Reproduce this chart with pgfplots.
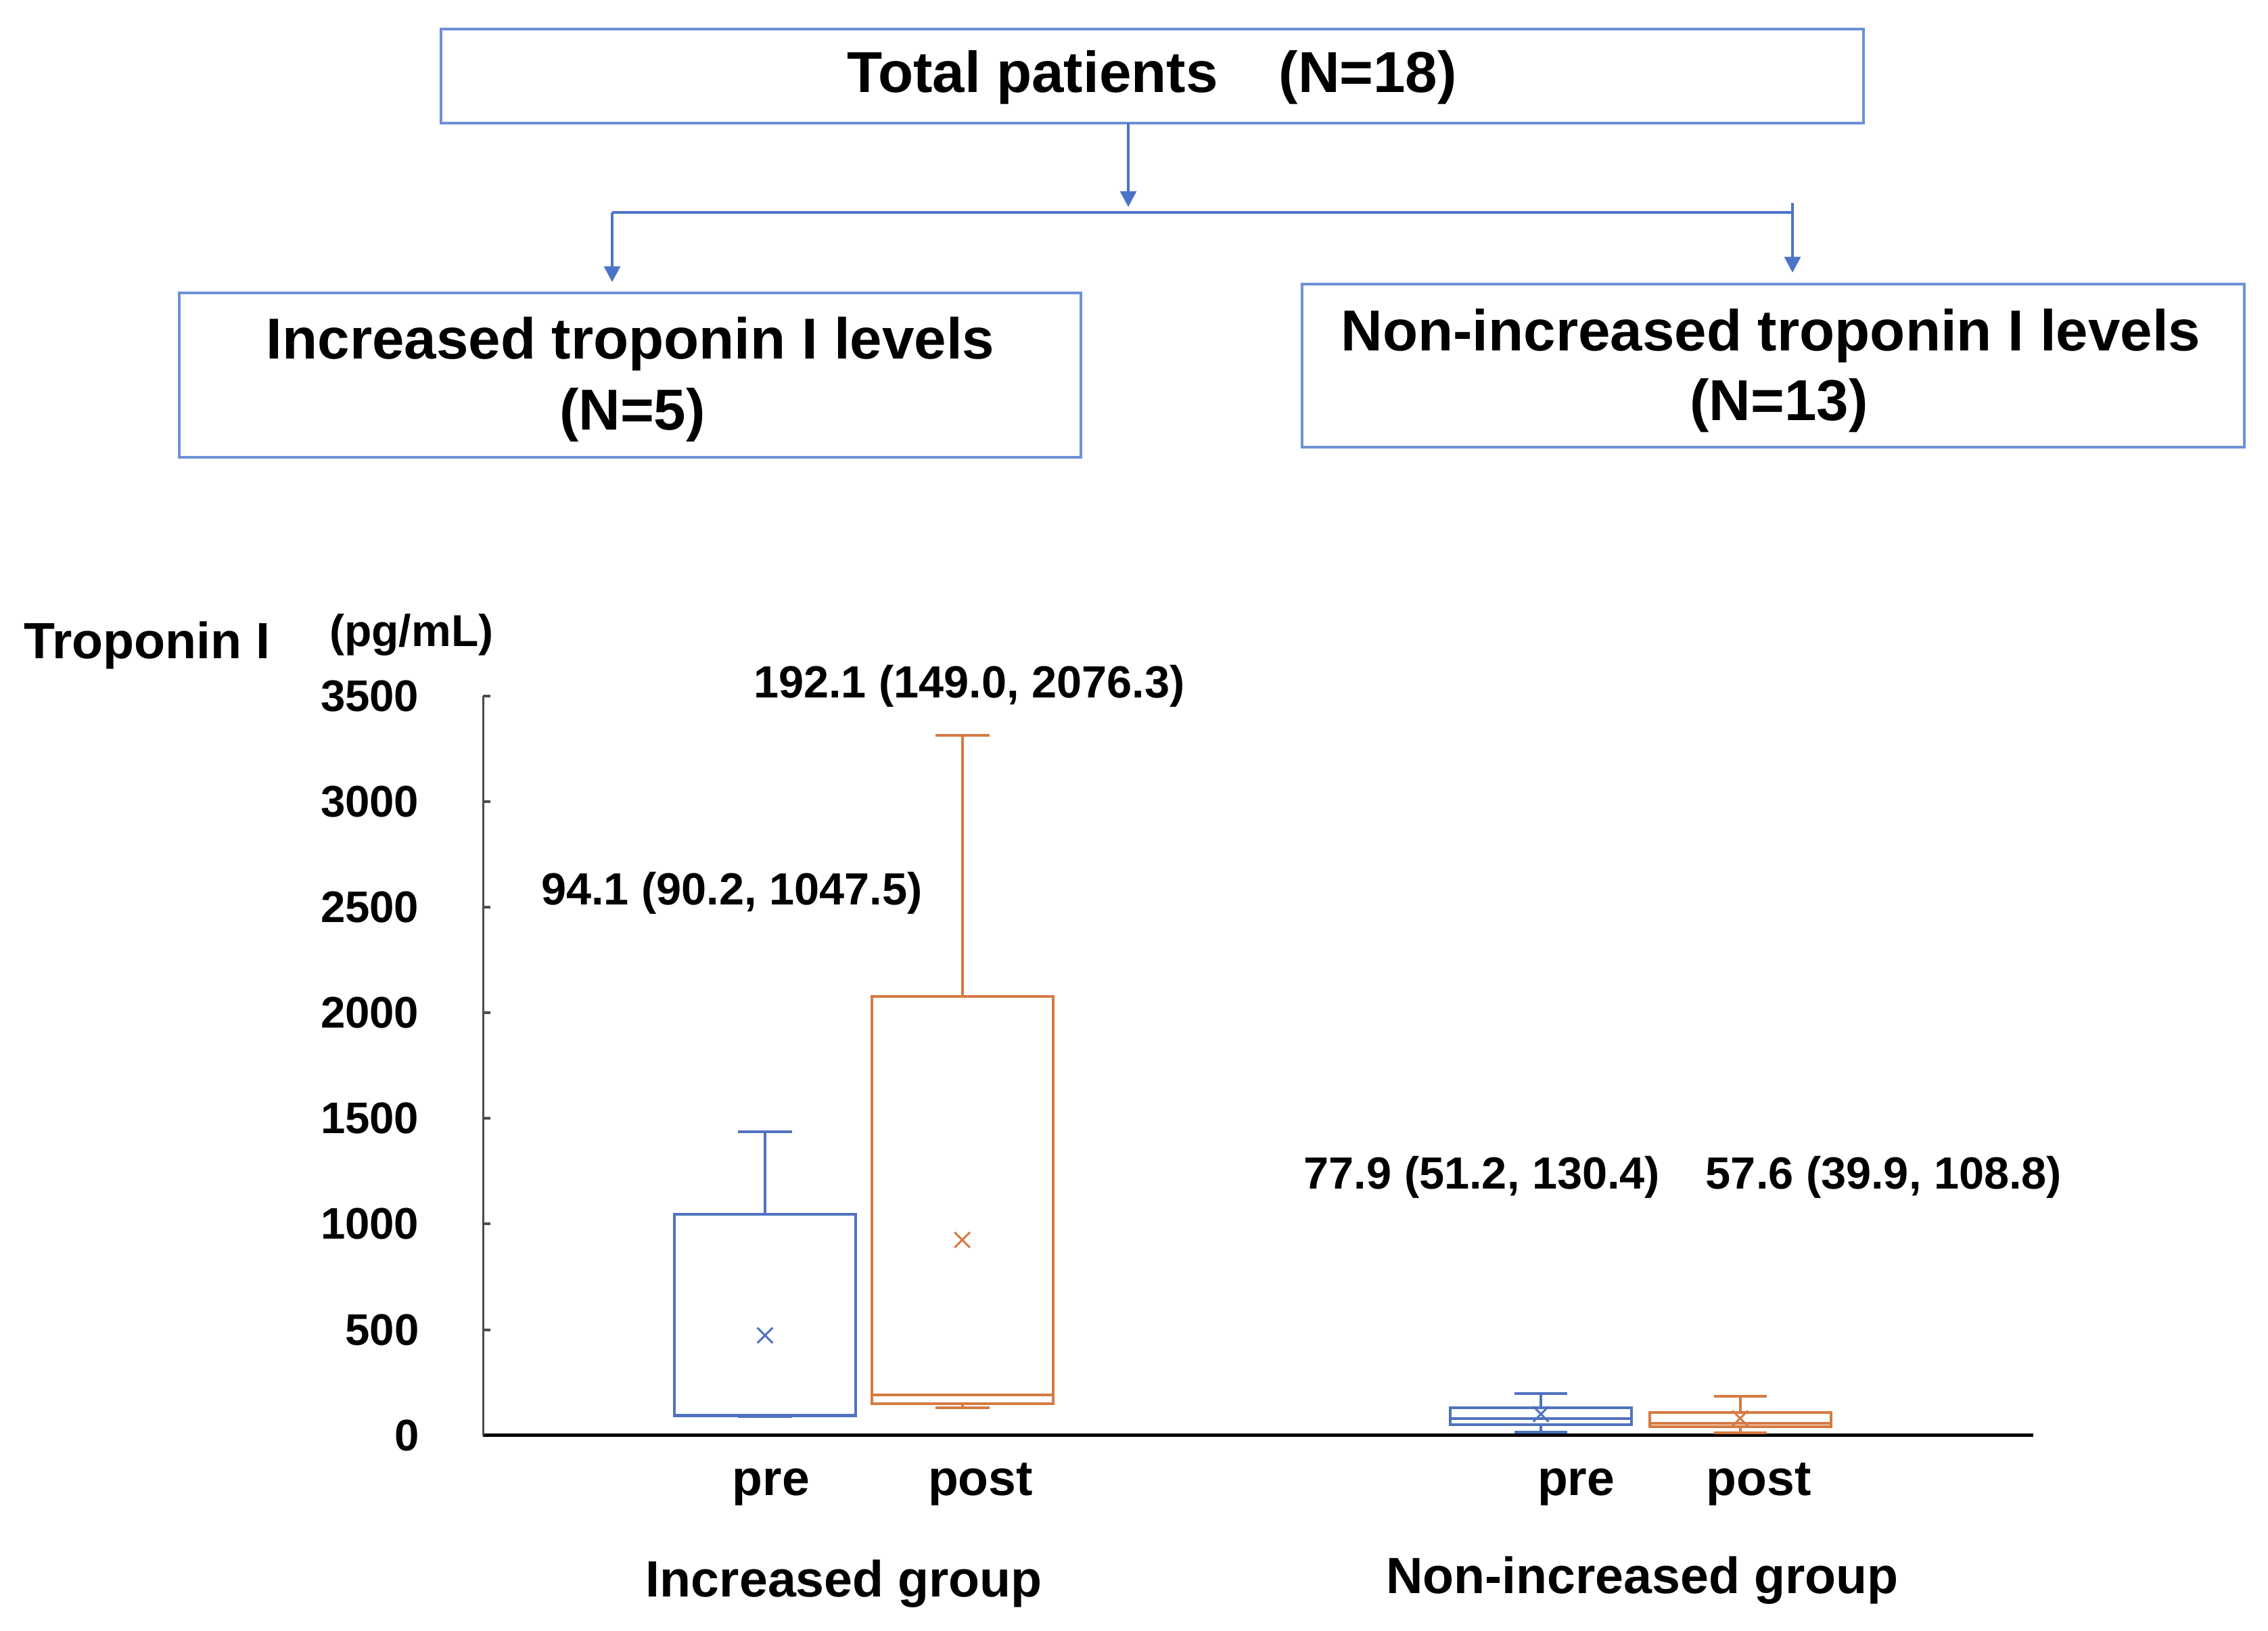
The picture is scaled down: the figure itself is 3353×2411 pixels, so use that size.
\documentclass[border=0pt]{standalone}
\usepackage{fontspec}
\setmainfont{Liberation Sans}
\usepackage{pgfplots}
\pgfplotsset{compat=1.18}
\usepgfplotslibrary{statistics}
\usetikzlibrary{arrows.meta}
\definecolor{bluec}{RGB}{80,114,192}
\definecolor{orangec}{RGB}{214,122,66}
\definecolor{boxblue}{RGB}{110,145,214}
\definecolor{arrblue}{RGB}{75,115,200}
\newcommand\F[1]{\fontsize{#1}{#1}\selectfont\bfseries}

\begin{document}
\begin{tikzpicture}
\begin{scope}[x=0.15pt,y=-0.15pt]
\useasboundingbox (0,0) rectangle (3353,2411);
% flowchart boxes
\draw[boxblue, line width=0.65pt] (652,43) rectangle (2755,182);
\node[anchor=base, font=\F{12.8}, inner sep=0pt] at (1703,137) {Total patients\hspace{13.5pt}(N=18)};
\draw[boxblue, line width=0.65pt] (265,433) rectangle (1598,676);
\node[anchor=base, font=\F{12.8}, inner sep=0pt] at (932,531) {Increased troponin I levels};
\node[anchor=base, font=\F{12.8}, inner sep=0pt] at (935,636) {(N=5)};
\draw[boxblue, line width=0.65pt] (1925,420) rectangle (3318,661);
\node[anchor=base, font=\F{12.8}, inner sep=0pt] at (2618,519) {Non-increased troponin I levels};
\node[anchor=base, font=\F{12.8}, inner sep=0pt] at (2630,622) {(N=13)};
% connectors
\draw[arrblue, line width=0.5pt, -{Triangle[length=3.5pt,width=3.6pt]}] (1668,182) -- (1668,306);
\draw[arrblue, line width=0.65pt] (905,314) -- (2650,314);
\draw[arrblue, line width=0.5pt] (2650,300) -- (2650,314);
\draw[arrblue, line width=0.5pt, -{Triangle[length=3.5pt,width=3.6pt]}] (905,314) -- (905,417);
\draw[arrblue, line width=0.5pt, -{Triangle[length=3.5pt,width=3.6pt]}] (2650,314) -- (2650,403);
% axis titles
\node[anchor=base west, font=\F{11.3}, inner sep=0pt] at (34,974) {Troponin I};
\node[anchor=base west, font=\F{9.9}, inner sep=0pt] at (486,956) {(pg/mL)};
% annotations
\node[anchor=base, font=\F{10}, inner sep=0pt] at (1433,1032) {192.1 (149.0, 2076.3)};
\node[anchor=base, font=\F{10}, inner sep=0pt] at (1082,1338) {94.1 (90.2, 1047.5)};
\node[anchor=base, font=\F{10}, inner sep=0pt] at (2191,1758) {77.9 (51.2, 130.4)};
\node[anchor=base, font=\F{10}, inner sep=0pt] at (2785,1758) {57.6 (39.9, 108.8)};
% group labels
\node[anchor=base, font=\F{11.3}, inner sep=0pt] at (1248,2360) {Increased group};
\node[anchor=base, font=\F{11.3}, inner sep=0pt] at (2428,2355) {Non-increased group};
\end{scope}
\begin{axis}[
  at={(107.1pt,-318.225pt)}, anchor=south west,
  scale only axis, width=343.8pt, height=163.875pt,
  xmin=0, xmax=22.92, ymin=0, ymax=3500,
  axis x line*=bottom, axis y line*=left,
  x axis line style={black, line width=0.75pt},
  y axis line style={black!70, line width=0.45pt},
  xtick={4.26,7.355,16.16,18.86},
  xticklabels={pre,post,pre,post},
  xtick style={draw=none},
  xticklabel style={anchor=base, inner sep=0pt, yshift=-13.3pt, font=\F{11}},
  ytick={0,500,...,3500},
  ytick style={black!70, line width=0.6pt},
  tick align=inside, major tick length=1.7pt,
  yticklabel style={anchor=east, inner sep=0pt, xshift=-14pt, font=\F{9.8},
    /pgf/number format/1000 sep={}, /pgf/number format/assume math mode=true},
  clip=false,
  boxplot/draw direction=y,
]
\addplot[draw=bluec, line width=0.6pt, solid, boxplot prepared={draw position=4.17, box extend=2.68, whisker extend=0.8,
  median=94.1, lower quartile=90.2, upper quartile=1047.5, lower whisker=88, upper whisker=1437}] coordinates {};
\addplot[draw=orangec, line width=0.6pt, solid, boxplot prepared={draw position=7.085, box extend=2.68, whisker extend=0.8,
  median=192.1, lower quartile=149.0, upper quartile=2076.3, lower whisker=130, upper whisker=3314}] coordinates {};
\addplot[draw=bluec, line width=0.6pt, solid, boxplot prepared={draw position=15.64, box extend=2.68, whisker extend=0.78,
  median=77.9, lower quartile=51.2, upper quartile=130.4, lower whisker=15, upper whisker=198}] coordinates {};
\addplot[draw=orangec, line width=0.6pt, solid, boxplot prepared={draw position=18.585, box extend=2.68, whisker extend=0.78,
  median=57.6, lower quartile=39.9, upper quartile=108.8, lower whisker=12, upper whisker=185}] coordinates {};
% means
\addplot[only marks, mark=x, mark size=2.4pt, draw=bluec, line width=0.45pt] coordinates {(4.17,473) (15.64,100)};
\addplot[only marks, mark=x, mark size=2.4pt, draw=orangec, line width=0.45pt] coordinates {(7.085,925) (18.585,80)};
\end{axis}
\end{tikzpicture}
\end{document}
